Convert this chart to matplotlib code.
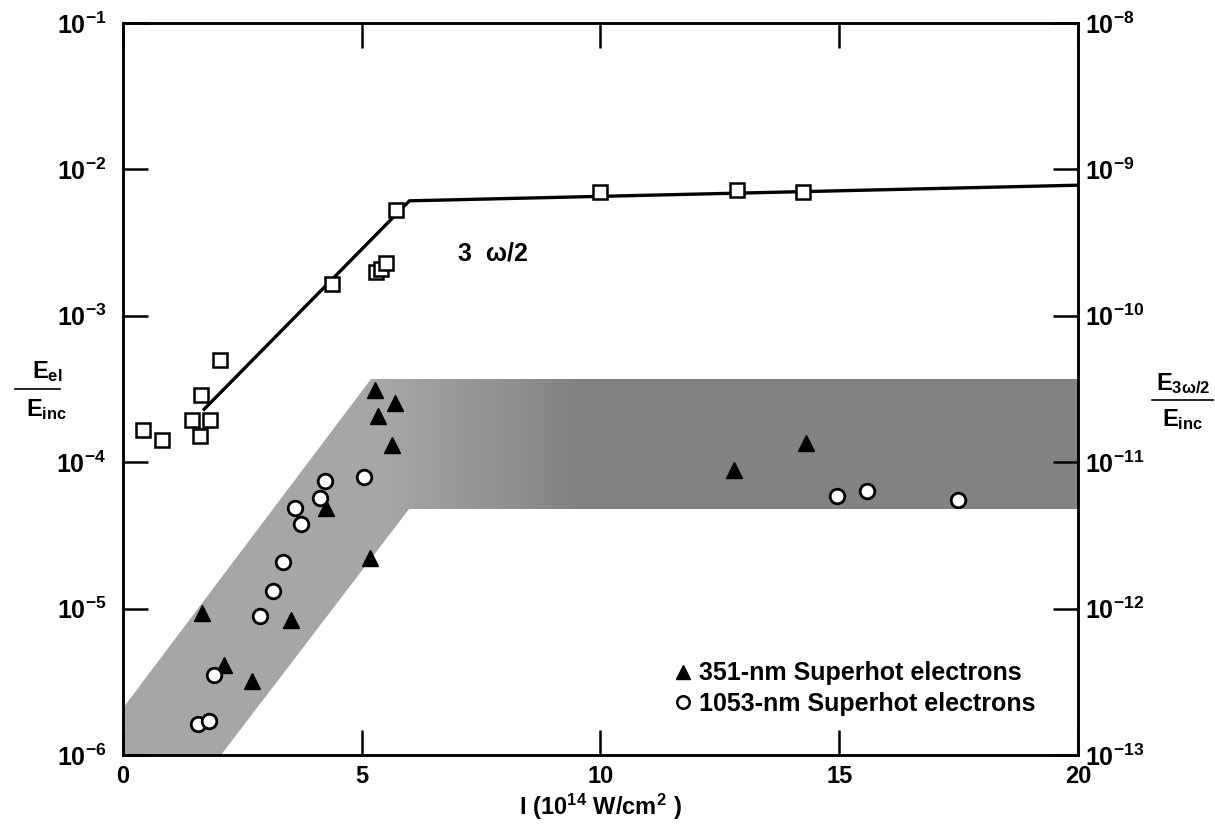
import numpy as np
import matplotlib
matplotlib.use("Agg")
import matplotlib.pyplot as plt
from matplotlib.patches import Polygon
from matplotlib.lines import Line2D
from matplotlib.ticker import FixedLocator, FuncFormatter

plt.rcParams['font.family'] = ['Liberation Sans', 'DejaVu Sans']
plt.rcParams['font.weight'] = 'bold'
plt.rcParams['mathtext.fontset'] = 'custom'
for k in ('rm', 'it', 'bf', 'sf'):
    plt.rcParams['mathtext.' + k] = 'Liberation Sans:bold'
plt.rcParams['mathtext.default'] = 'bf'

# 3w/2 emission (right axis) and its piecewise fit
sq_I = [0.43, 0.81, 1.44, 1.61, 1.63, 1.82, 2.03, 4.37, 5.30, 5.40, 5.50, 5.72, 10.0, 12.85, 14.25]
sq_E = [1.67e-11, 1.41e-11, 1.94e-11, 1.52e-11, 2.86e-11, 1.94e-11, 5.0e-11, 1.64e-10,
        2.0e-10, 2.1e-10, 2.3e-10, 5.3e-10, 7.0e-10, 7.2e-10, 7.0e-10]
fit_I = [1.70, 6.0, 20.0]
fit_E = [2.3e-11, 6.1e-10, 7.8e-10]

# superhot-electron energy fractions (left axis)
tri_I = [1.65, 2.12, 2.70, 3.52, 4.26, 5.17, 5.28, 5.35, 5.64, 5.69, 12.79, 14.31]
tri_E = [9.4e-6, 4.1e-6, 3.2e-6, 8.4e-6, 4.9e-5, 2.2e-5, 3.1e-4, 2.07e-4, 1.32e-4, 2.53e-4,
         8.9e-5, 1.35e-4]
circ_I = [1.58, 1.80, 1.90, 2.87, 3.15, 3.35, 3.61, 3.73, 4.12, 4.24, 5.05, 14.96, 15.58, 17.49]
circ_E = [1.63e-6, 1.72e-6, 3.5e-6, 8.9e-6, 1.32e-5, 2.07e-5, 4.9e-5, 3.8e-5, 5.7e-5, 7.4e-5,
          7.9e-5, 5.9e-5, 6.35e-5, 5.5e-5]

# shaded band enclosing the superhot data
band_I = [0, 5.2, 20, 20, 6.0, 2.05, 0]
band_E = [2.1e-6, 3.7e-4, 3.7e-4, 4.8e-5, 4.8e-5, 1e-6, 1e-6]

x_ticks = [0, 5, 10, 15, 20]
left_ticks = [1e-6, 1e-5, 1e-4, 1e-3, 1e-2, 1e-1]
right_ticks = [1e-13, 1e-12, 1e-11, 1e-10, 1e-9, 1e-8]


def pow_label(v, pos=None):
    return r'$10^{%d}$' % int(round(np.log10(v)))


fig = plt.figure(figsize=(12.15, 8.36), dpi=100)
ax = fig.add_axes([0.1012, 0.0969, 0.786, 0.8756])
ax.set_xlim(0, 20)
ax.set_yscale('log')
ax.set_ylim(1e-6, 1e-1)

# band with a gray ramp, darker on the plateau
poly = Polygon(np.column_stack([band_I, band_E]), closed=True, facecolor='none',
               edgecolor='none', transform=ax.transData)
ax.add_patch(poly)
gx = np.linspace(0, 20, 401)
gc = 0.65 - 0.14 * np.clip((0.5 * (gx[:-1] + gx[1:]) - 5.5) / 4.0, 0, 1)
mesh = ax.pcolormesh(gx, [1e-6, 1e-1], gc[np.newaxis, :], cmap='gray', vmin=0, vmax=1,
                     shading='flat', edgecolors='none', antialiased=False, zorder=1)
mesh.set_clip_path(poly)

ax.plot(tri_I, tri_E, ls='none', marker='^', ms=11, color='black', zorder=4)
ax.plot(circ_I, circ_E, ls='none', marker='o', ms=10.5, mfc='white', mec='black',
        mew=2, zorder=4)

ax.xaxis.set_major_locator(FixedLocator(x_ticks))
ax.yaxis.set_major_locator(FixedLocator(left_ticks))
ax.yaxis.set_minor_locator(FixedLocator([]))
ax.yaxis.set_major_formatter(FuncFormatter(pow_label))
ax.tick_params(axis='x', which='major', direction='in', length=18, width=1.8, top=True,
               labelsize=17, pad=7)
ax.tick_params(axis='y', which='major', direction='in', length=18, width=1.8, right=False,
               labelsize=18, pad=12)
for s in ax.spines.values():
    s.set_linewidth(1.8)

ax2 = ax.twinx()
ax2.set_yscale('log')
ax2.set_ylim(1e-13, 1e-8)
ax2.plot(fit_I, fit_E, color='black', lw=2.4, zorder=3)
ax2.plot(sq_I, sq_E, ls='none', marker='s', ms=10, mfc='white', mec='black', mew=1.8,
         zorder=4)
ax2.yaxis.set_major_locator(FixedLocator(right_ticks))
ax2.yaxis.set_minor_locator(FixedLocator([]))
ax2.yaxis.set_major_formatter(FuncFormatter(pow_label))
ax2.tick_params(axis='y', which='major', direction='in', length=18, width=1.8,
                labelsize=18, pad=5)
for s in ax2.spines.values():
    s.set_linewidth(1.8)

ax.set_xlabel(r'$I\ (10^{14}\ W/cm^{2}\ )$', fontsize=17, labelpad=3)

ax2.text(7.75, 2.65e-10, '3  ω/2', fontsize=18, fontweight='bold', ha='center', va='center')

# legend for the two electron data sets
handles = [Line2D([], [], ls='none', marker='^', ms=10, color='black'),
           Line2D([], [], ls='none', marker='o', ms=9, mfc='white', mec='black', mew=1.8)]
ax.legend(handles, ['351-nm Superhot electrons', '1053-nm Superhot electrons'],
          loc='upper left', bbox_to_anchor=(0.577, 0.128), frameon=False,
          prop={'size': 18, 'weight': 'bold'}, handlelength=0.7, handletextpad=0.3,
          labelspacing=0.25, borderpad=0, borderaxespad=0)

# stacked-fraction axis titles
W, H = 1215.0, 836.0
fig.text(47 / W, 1 - 372 / H, r'$E_{el}$', fontsize=17, ha='center', va='center')
fig.add_artist(Line2D([15 / W, 60 / W], [1 - 389 / H, 1 - 389 / H], color='black', lw=1.2))
fig.text(47 / W, 1 - 410 / H, r'$E_{inc}$', fontsize=17, ha='center', va='center')

fig.text(1183 / W, 1 - 384 / H, r'$E_{3\omega/2}$', fontsize=17, ha='center', va='center')
fig.add_artist(Line2D([1152 / W, 1213 / W], [1 - 400 / H, 1 - 400 / H], color='black', lw=1.2))
fig.text(1183 / W, 1 - 420 / H, r'$E_{inc}$', fontsize=17, ha='center', va='center')

fig.savefig('out.png', dpi=100)
